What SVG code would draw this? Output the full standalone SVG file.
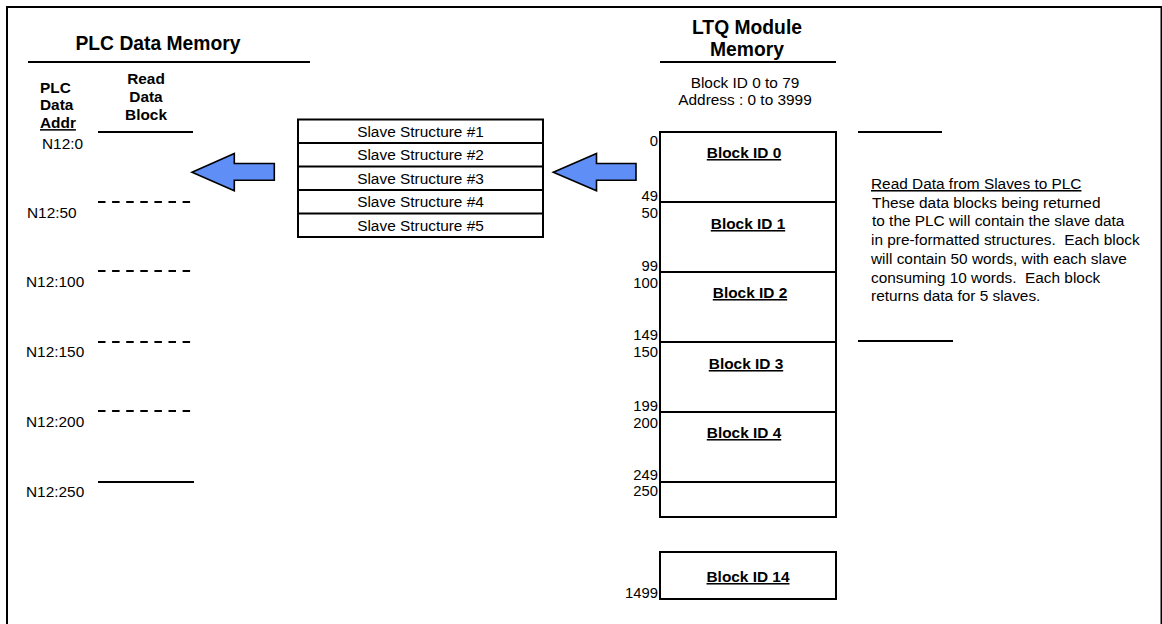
<svg xmlns="http://www.w3.org/2000/svg" width="1162" height="624" viewBox="0 0 1162 624">
<defs>
<style>
text{font-family:"Liberation Sans",Arial,sans-serif;fill:#000}
.t{font-size:15.4px}
.n{font-size:14.8px}
.b{font-size:15.4px;font-weight:bold}
.h{font-size:19.3px;font-weight:bold}
.u{text-decoration:underline}
.m{text-anchor:middle}
.e{text-anchor:end}
.p{white-space:pre}
.ln{stroke:#000;stroke-width:2;fill:none}
.dl{stroke:#000;stroke-width:2;fill:none;stroke-dasharray:7.5 6.6}
.box{fill:#fff;stroke:#000;stroke-width:2}
.arr{fill:#5F8EF7;stroke:#000;stroke-width:1.6;stroke-linejoin:miter}
</style>
</defs>
<rect x="7" y="7" width="1154.5" height="640" fill="#fff" stroke="#000" stroke-width="2"/>

<g id="plc-memory">
<text class="h m" x="158" y="50">PLC Data Memory</text>
<line class="ln" x1="28" y1="62" x2="310" y2="62"/>
<text class="b" x="40" y="92.5">PLC</text>
<text class="b" x="40" y="110.3">Data</text>
<text class="b u" x="40" y="128.1">Addr</text>
<text class="b m" x="146" y="84">Read</text>
<text class="b m" x="146" y="102">Data</text>
<text class="b m" x="146" y="120">Block</text>
<line class="ln" x1="98" y1="132" x2="193" y2="132"/>
<text class="t" x="42" y="149">N12:0</text>
<line class="dl" x1="98" y1="202" x2="194" y2="202"/>
<text class="t" x="27" y="218">N12:50</text>
<line class="dl" x1="98" y1="271" x2="194" y2="271"/>
<text class="t" x="26" y="287">N12:100</text>
<line class="dl" x1="98" y1="342" x2="194" y2="342"/>
<text class="t" x="26" y="357">N12:150</text>
<line class="dl" x1="98" y1="411" x2="194" y2="411"/>
<text class="t" x="26" y="427">N12:200</text>
<line class="ln" x1="98" y1="482" x2="194" y2="482"/>
<text class="t" x="26" y="497">N12:250</text>
</g>

<g id="slave-structures">
<rect class="box" x="298" y="119.5" width="245" height="117.5"/>
<line class="ln" x1="298" y1="143" x2="543" y2="143"/>
<line class="ln" x1="298" y1="166.5" x2="543" y2="166.5"/>
<line class="ln" x1="298" y1="190" x2="543" y2="190"/>
<line class="ln" x1="298" y1="213.5" x2="543" y2="213.5"/>
<text class="t m" x="420.5" y="136.5">Slave Structure #1</text>
<text class="t m" x="420.5" y="160">Slave Structure #2</text>
<text class="t m" x="420.5" y="183.5">Slave Structure #3</text>
<text class="t m" x="420.5" y="207">Slave Structure #4</text>
<text class="t m" x="420.5" y="230.5">Slave Structure #5</text>
</g>

<g id="connectors">
<polygon class="arr" points="192,172.3 234.3,153.5 234.3,163.5 274.3,163.5 274.3,180.3 234.3,180.3 234.3,190.7"/>
<polygon class="arr" points="553.3,172.3 596.5,153.5 596.5,163.5 636,163.5 636,180.3 596.5,180.3 596.5,190.7"/>
</g>

<g id="ltq-memory">
<text class="h m" x="747" y="34">LTQ Module</text>
<text class="h m" x="747" y="56">Memory</text>
<line class="ln" x1="660" y1="62" x2="836" y2="62"/>
<text class="t m" x="745" y="87.5">Block ID 0 to 79</text>
<text class="t m" x="745" y="105">Address : 0 to 3999</text>
<rect class="box" x="660" y="132" width="176" height="385"/>
<line class="ln" x1="660" y1="202" x2="836" y2="202"/>
<line class="ln" x1="660" y1="272" x2="836" y2="272"/>
<line class="ln" x1="660" y1="342" x2="836" y2="342"/>
<line class="ln" x1="660" y1="412" x2="836" y2="412"/>
<line class="ln" x1="660" y1="482" x2="836" y2="482"/>
<text class="b u m" x="744" y="158">Block ID 0</text>
<text class="b u m" x="748" y="229">Block ID 1</text>
<text class="b u m" x="750" y="298">Block ID 2</text>
<text class="b u m" x="746" y="369">Block ID 3</text>
<text class="b u m" x="744" y="438">Block ID 4</text>
<rect class="box" x="660" y="552" width="176" height="47"/>
<text class="b u m" x="748" y="582">Block ID 14</text>
<text class="n e" x="658" y="146">0</text>
<text class="n e" x="658" y="201">49</text>
<text class="n e" x="658" y="218">50</text>
<text class="n e" x="658" y="271">99</text>
<text class="n e" x="658" y="288">100</text>
<text class="n e" x="658" y="340">149</text>
<text class="n e" x="658" y="357">150</text>
<text class="n e" x="658" y="411">199</text>
<text class="n e" x="658" y="428">200</text>
<text class="n e" x="658" y="480">249</text>
<text class="n e" x="658" y="496">250</text>
<text class="n e" x="658" y="598">1499</text>
</g>

<g id="description">
<line class="ln" x1="858" y1="132" x2="942" y2="132"/>
<text class="t u" x="871" y="189">Read Data from Slaves to PLC</text>
<text class="t" x="872" y="207.7">These data blocks being returned</text>
<text class="t" x="872" y="226.4">to the PLC will contain the slave data</text>
<text class="t p" x="871" y="245.1">in pre-formatted structures.  Each block</text>
<text class="t" x="871" y="263.8">will contain 50 words, with each slave</text>
<text class="t p" x="871" y="282.5">consuming 10 words.  Each block</text>
<text class="t" x="871" y="301.2">returns data for 5 slaves.</text>
<line class="ln" x1="858" y1="341" x2="953" y2="341"/>
</g>
</svg>
